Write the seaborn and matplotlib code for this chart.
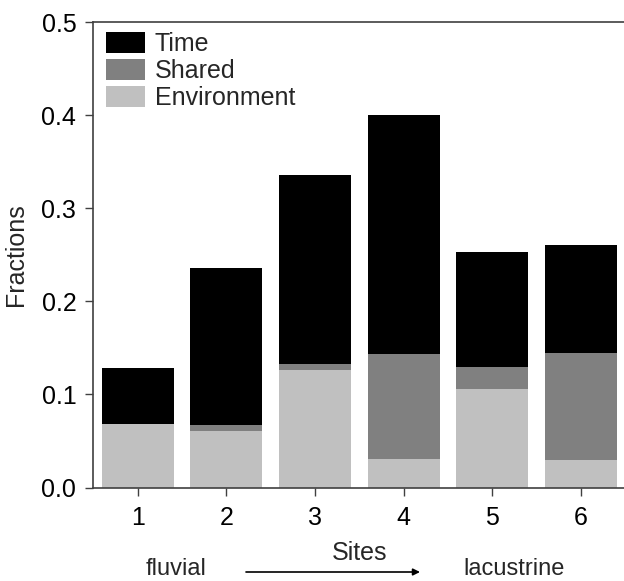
import numpy as np
import pandas as pd
import matplotlib
matplotlib.use("Agg")
import matplotlib.pyplot as plt
import seaborn as sns

sites = [1, 2, 3, 4, 5, 6]
environment = [0.068, 0.061, 0.126, 0.031, 0.106, 0.030]
shared = [0.000, 0.006, 0.007, 0.112, 0.023, 0.115]
time = [0.060, 0.169, 0.203, 0.257, 0.124, 0.115]
yticks = [0.0, 0.1, 0.2, 0.3, 0.4, 0.5]

sns.set_style("white")
plt.rcParams['font.family'] = ['Liberation Sans', 'DejaVu Sans']

env_arr = np.array(environment)
sh_top = env_arr + np.array(shared)
tot_top = sh_top + np.array(time)
df = pd.DataFrame({"site": sites, "env": env_arr, "shared": sh_top, "total": tot_top})

fig = plt.figure(figsize=(6.24, 5.81), dpi=100)
ax = fig.add_axes([93/624, 1 - 487.5/581, 1 - 93/624, (487.5 - 22)/581])

sns.barplot(data=df, x="site", y="total", native_scale=True, width=0.81,
            color="#000000", saturation=1, label="Time", ax=ax, linewidth=0)
sns.barplot(data=df, x="site", y="shared", native_scale=True, width=0.81,
            color="#808080", saturation=1, label="Shared", ax=ax, linewidth=0)
sns.barplot(data=df, x="site", y="env", native_scale=True, width=0.81,
            color="#c0c0c0", saturation=1, label="Environment", ax=ax, linewidth=0)

ax.set_xlim(0.496, 6.485)
ax.set_ylim(0, 0.5)
ax.set_xticks(sites)
ax.set_xticklabels([str(s) for s in sites])
ax.set_yticks(yticks)
ax.set_yticklabels([f"{v:.1f}" for v in yticks])
ax.tick_params(axis="both", which="major", direction="out", length=6, width=1,
               colors="#404040", labelcolor="black", labelsize=18,
               bottom=True, left=True, top=False, right=False)
ax.tick_params(axis="x", pad=7)
ax.tick_params(axis="y", pad=6)
for s in ["left", "bottom", "top"]:
    ax.spines[s].set_color("#404040")
    ax.spines[s].set_linewidth(1.2)
ax.spines["right"].set_visible(False)
ax.set_xlabel("")
ax.set_ylabel("Fractions", fontsize=18, labelpad=10)

leg = ax.legend(loc="upper left", frameon=False, fontsize=18, handlelength=1.55,
                handleheight=0.9, handletextpad=0.4, labelspacing=0.12,
                borderaxespad=0.0, borderpad=0.3, bbox_to_anchor=(0.01, 0.995))

fig.text(360/624, 1 - 553/581, "Sites", ha="center", va="center", fontsize=18)
fig.text(176/624, 1 - 580/581, "fluvial", ha="center", va="bottom", fontsize=17)
fig.text(514/624, 1 - 580/581, "lacustrine", ha="center", va="bottom", fontsize=17)
ax.annotate("", xy=(420/624, 1 - 572/581), xytext=(246/624, 1 - 572/581),
            xycoords="figure fraction", textcoords="figure fraction",
            arrowprops=dict(arrowstyle="-|>", color="black", lw=1.2,
                            mutation_scale=10, shrinkA=0, shrinkB=0),
            annotation_clip=False)

fig.savefig("out.png", dpi=100)
